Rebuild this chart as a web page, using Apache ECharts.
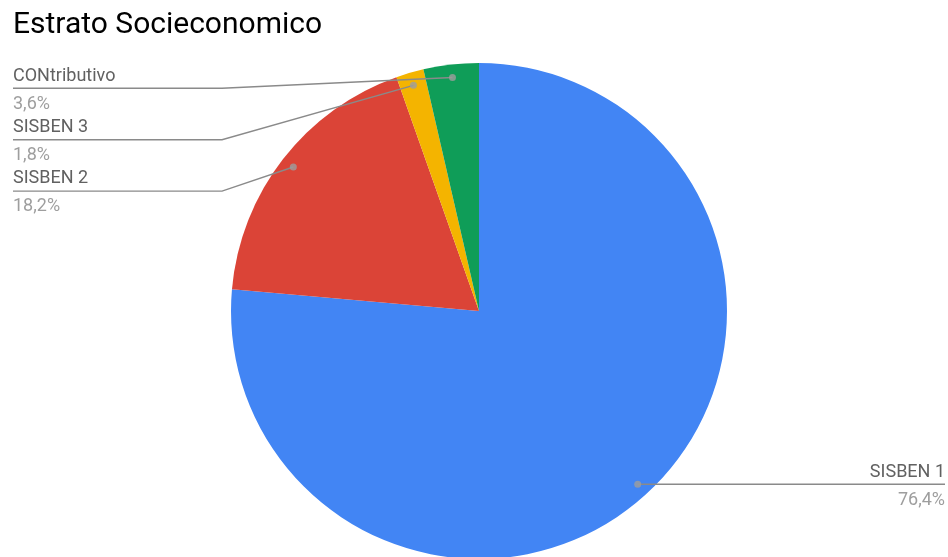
<!DOCTYPE html>
<html>
<head>
<meta charset="utf-8">
<script src="https://cdn.jsdelivr.net/npm/echarts@6/dist/echarts.min.js"></script>
<style>html,body{margin:0;padding:0;background:#fff}#c{width:948px;height:557px}</style>
</head>
<body>
<div id="c"></div>
<script>
var categories = ['SISBEN 1', 'SISBEN 2', 'SISBEN 3', 'CONtributivo'];
var values = [76.4, 18.2, 1.8, 3.6];
var colors = ['#4285F4', '#DB4437', '#F4B400', '#0F9D58'];
var titleText = 'Estrato Socieconomico';

var CX = 479, CY = 311, R = 248, DOT_R = 235;
var chart = echarts.init(document.getElementById('c'));

var total = values.reduce(function (a, b) { return a + b; }, 0);
var cum = 0;
var mids = values.map(function (v) { var m = cum + v / 2; cum += v; return m / total * 100; });

function fmtPct(v) { return (v / total * 100).toFixed(1).replace('.', ',') + '%'; }

var leftOrder = [3, 2, 1];

chart.setOption({
  animation: false,
  title: {
    text: titleText, left: 8, top: 5,
    textStyle: { fontFamily: 'Roboto', fontSize: 30, fontWeight: 'normal', color: '#000' }
  },
  polar: { center: [CX, CY], radius: R },
  angleAxis: { type: 'value', min: 0, max: 100, startAngle: 90, clockwise: true, show: false },
  radiusAxis: { type: 'value', min: 0, max: R, show: false },
  series: [{
    type: 'pie',
    z: 1,
    center: [CX, CY],
    radius: [0, R],
    startAngle: 90,
    clockwise: true,
    data: categories.map(function (c, i) { return { name: c, value: values[i], itemStyle: { color: colors[i] } }; }),
    label: { show: false },
    labelLine: { show: false },
    emphasis: { disabled: true }
  }, {
    type: 'pie',
    z: 3,
    silent: true,
    center: [CX, CY],
    radius: [0, R],
    startAngle: 90,
    clockwise: true,
    data: categories.map(function (c, i) { return { name: c, value: values[i] }; }),
    itemStyle: { color: 'rgba(0,0,0,0)', borderWidth: 0 },
    label: {
      show: true,
      position: 'outside',
      formatter: function (p) { return '{n|' + p.name + '}\n{v|' + fmtPct(p.value) + '}'; },
      rich: {
        n: { fontFamily: 'Roboto', fontSize: 18, color: '#616161', lineHeight: 28 },
        v: { fontFamily: 'Roboto', fontSize: 18, color: '#9e9e9e', lineHeight: 28 }
      }
    },
    labelLine: { show: true, length: 10, length2: 10, lineStyle: { color: '#8a8a8a', width: 1.4 } },
    labelLayout: function (params) {
      var i = params.dataIndex;
      var p0 = params.labelLinePoints[0];
      var dx = p0[0] - CX, dy = p0[1] - CY, d = Math.sqrt(dx * dx + dy * dy);
      var dot = [CX + dx / d * DOT_R, CY + dy / d * DOT_R];
      var k = leftOrder.indexOf(i);
      if (k >= 0) {
        var ly = 88.3 + k * 51.4;
        return {
          x: 13, y: ly + 1.7, align: 'left', verticalAlign: 'middle',
          labelLinePoints: [dot, [222, ly], [13, ly]]
        };
      } else {
        var ry = dot[1];
        return {
          x: 945, y: ry + 1.7, align: 'right', verticalAlign: 'middle',
          labelLinePoints: [dot, [dot[0] + 1, ry], [945, ry]]
        };
      }
    },
    emphasis: { disabled: true }
  }, {
    type: 'scatter',
    coordinateSystem: 'polar',
    symbolSize: 7,
    z: 5,
    itemStyle: { color: '#9e9e9e' },
    silent: true,
    data: mids.map(function (m) { return [DOT_R, m]; })
  }]
});
</script>
</body>
</html>
